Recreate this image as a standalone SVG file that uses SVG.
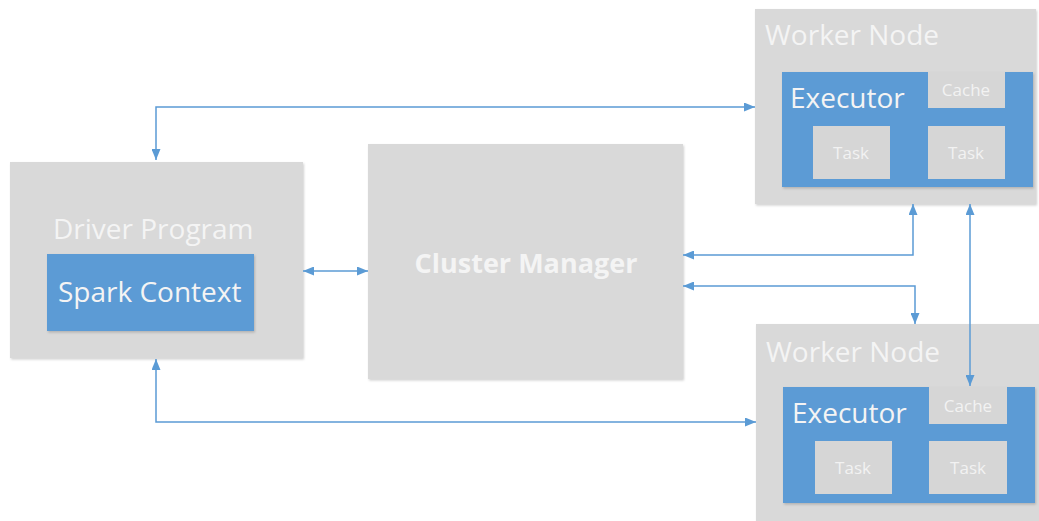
<svg xmlns="http://www.w3.org/2000/svg" width="1039" height="521" viewBox="0 0 1039 521">
  <style>
    .box { fill: #d9d9d9; }
    .blue { fill: #5b9bd5; }
    .inner { fill: #d6d6d6; }
    .t { font-family: "Open Sans", "Noto Sans", sans-serif; fill: #f4f4f4; }
    .big { font-size: 28px; }
    .bold { font-size: 27px; font-weight: bold; }
    .small { font-size: 17px; text-anchor: middle; fill: #f2f2f2; }
    .link { fill: none; stroke: #5b9bd5; stroke-width: 1.5; marker-start: url(#arr); marker-end: url(#arr); }
  </style>
  <defs>
    <marker id="arr" viewBox="0 0 11 9" refX="11" refY="4.5" markerWidth="11" markerHeight="9" markerUnits="userSpaceOnUse" orient="auto-start-reverse">
      <path d="M0,0 L11,4.5 L0,9 z" fill="#5b9bd5"/>
    </marker>
    <filter id="sh" x="-5%" y="-5%" width="110%" height="110%">
      <feDropShadow dx="1" dy="1.5" stdDeviation="1" flood-color="#000" flood-opacity="0.18"/>
    </filter>
  </defs>
  <rect width="1039" height="521" fill="#ffffff"/>

  <!-- driver -->
  <g id="driver-program">
    <rect class="box" x="10" y="162" width="293" height="196" filter="url(#sh)"/>
    <text class="t big" x="53" y="239">Driver Program</text>
    <g id="spark-context">
      <rect class="blue" x="47" y="254" width="207" height="77" filter="url(#sh)"/>
      <text class="t big" x="58" y="302">Spark Context</text>
    </g>
  </g>

  <!-- cluster manager -->
  <g id="cluster-manager">
    <rect class="box" x="368" y="144" width="315" height="235" filter="url(#sh)"/>
    <text class="t bold" x="526" y="273" text-anchor="middle">Cluster Manager</text>
  </g>

  <!-- worker node 1 -->
  <g id="worker-node-1">
    <rect class="box" x="755" y="9" width="281" height="195" filter="url(#sh)"/>
    <text class="t big" x="765" y="45">Worker Node</text>
    <g id="executor-1">
      <rect class="blue" x="782" y="72" width="251" height="115" filter="url(#sh)"/>
      <text class="t big" x="790" y="108">Executor</text>
      <rect class="inner" x="928" y="72" width="77" height="36"/>
      <text class="t small" x="966" y="96">Cache</text>
      <rect class="inner" x="813" y="126" width="77" height="53"/>
      <text class="t small" x="851" y="159">Task</text>
      <rect class="inner" x="928" y="126" width="77" height="53"/>
      <text class="t small" x="966" y="159">Task</text>
    </g>
  </g>

  <!-- worker node 2 -->
  <g id="worker-node-2">
    <rect class="box" x="756" y="324" width="283" height="197" filter="url(#sh)"/>
    <text class="t big" x="766" y="362">Worker Node</text>
    <g id="executor-2">
      <rect class="blue" x="783" y="387" width="252" height="116" filter="url(#sh)"/>
      <text class="t big" x="792" y="423">Executor</text>
      <rect class="inner" x="929" y="387" width="78" height="37"/>
      <text class="t small" x="968" y="412">Cache</text>
      <rect class="inner" x="815" y="441" width="77" height="53"/>
      <text class="t small" x="853" y="474">Task</text>
      <rect class="inner" x="929" y="441" width="78" height="53"/>
      <text class="t small" x="968" y="474">Task</text>
    </g>
  </g>

  <!-- connectors, drawn last so the worker-to-worker link shows over the lower node -->
  <g id="connectors">
    <path class="link" d="M156,160 V107 H755"/>
    <path class="link" d="M156,359 V422 H756"/>
    <path class="link" d="M303,271 H368"/>
    <path class="link" d="M683,255 H913 V204"/>
    <path class="link" d="M683,286 H915 V324"/>
    <path class="link" d="M970,204 V386"/>
  </g>
</svg>
